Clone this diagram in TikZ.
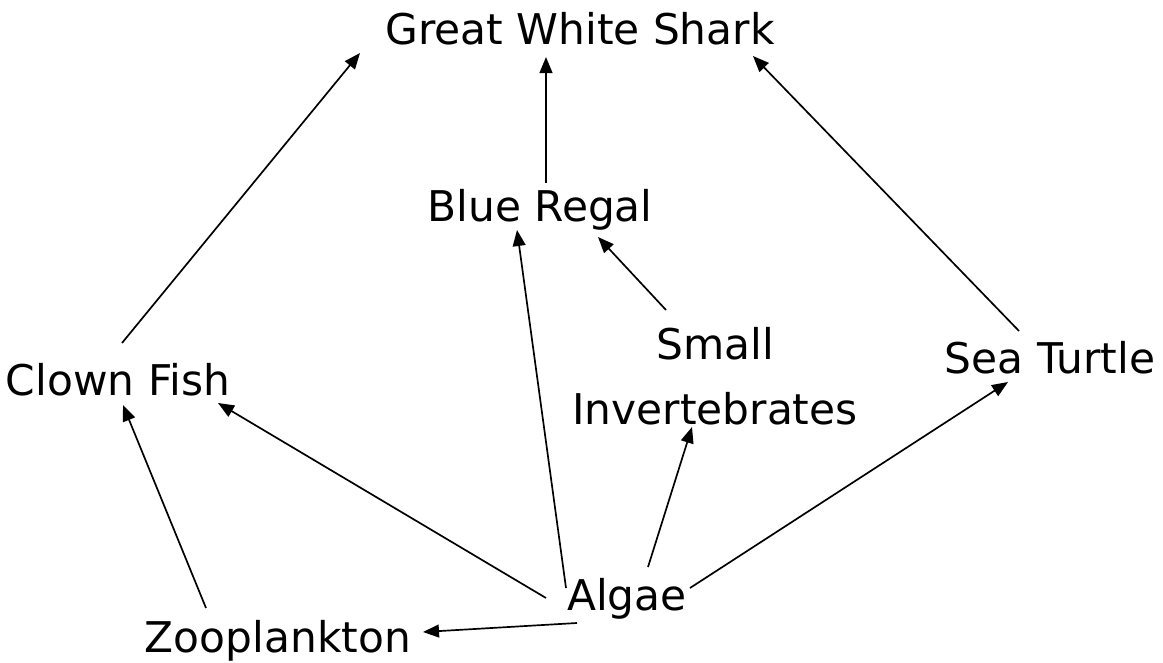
\documentclass[tikz,border=0pt]{standalone}
\usepackage{fontspec}
\setmainfont{DejaVu Sans}
\usetikzlibrary{arrows.meta}

\begin{document}
\begin{tikzpicture}[
    x=0.025cm, y=-0.025cm,
    font=\fontsize{30.1}{46.1}\selectfont,
    animal/.style={inner sep=0pt, anchor=base, align=center},
    eats/.style={-{Triangle[length=4mm,width=3.2mm]}, line width=1.2pt}
  ]
    \useasboundingbox (0,0) rectangle (1163,663);
    \node[animal] (shark) at (580,45) {Great White Shark};
    \node[animal] (regal) at (540,222) {Blue Regal};
    \node[animal, anchor=south] (invert) at (715,425) {Small\\Invertebrates};
    \node[animal] (turtle) at (1050,373) {Sea Turtle};
    \node[animal] (clown) at (118,395) {Clown Fish};
    \node[animal] (algae) at (627,610) {Algae};
    \node[animal] (zoo) at (278,652) {Zooplankton};
    % who eats whom
    \draw[eats] ([shift={(4,-52)}]clown.base) -- ([shift={(-220,8)}]shark.base);
    \draw[eats] ([shift={(6,-39)}]regal.base) -- ([shift={(-34,12)}]shark.base);
    \draw[eats] ([shift={(-31,-42)}]turtle.base) -- ([shift={(173,11)}]shark.base);
    \draw[eats] ([shift={(-49,-115)}]invert.south) -- ([shift={(58,15)}]regal.base);
    \draw[eats] ([shift={(-61,-22)}]algae.base) -- ([shift={(-23,8)}]regal.base);
    \draw[eats] ([shift={(-81,-12)}]algae.base) -- ([shift={(100,8)}]clown.base);
    \draw[eats] ([shift={(21,-43)}]algae.base) -- ([shift={(-23,2)}]invert.south);
    \draw[eats] ([shift={(63,-22)}]algae.base) -- ([shift={(-42,9)}]turtle.base);
    \draw[eats] ([shift={(-50,13)}]algae.base) -- ([shift={(145,-20)}]zoo.base);
    \draw[eats] ([shift={(-72,-44)}]zoo.base) -- ([shift={(5,10)}]clown.base);
\end{tikzpicture}
\end{document}
